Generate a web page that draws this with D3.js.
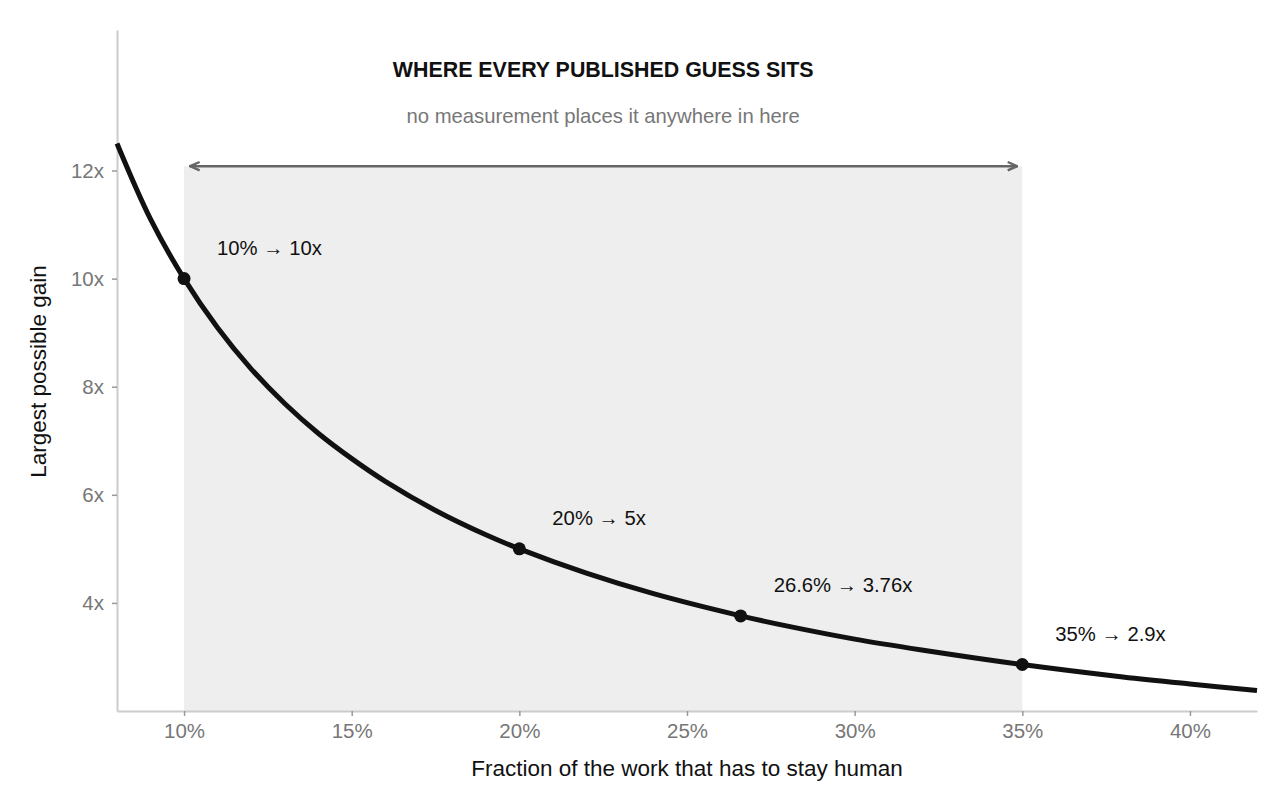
<!DOCTYPE html>
<html>
<head>
<meta charset="utf-8">
<script src="https://cdn.jsdelivr.net/npm/d3@7.9.0/dist/d3.min.js"></script>
<style>
  html, body { margin: 0; padding: 0; background: #fff; }
  svg { display: block; font-family: "Liberation Sans", Arial, sans-serif; }
  .axis .domain { stroke: #cccccc; stroke-width: 2; }
  .axis .tick line { stroke: #999999; stroke-width: 1.5; }
  .axis .tick text { fill: #777777; font-size: 20.5px; }
</style>
</head>
<body>
<svg id="chart" width="1288" height="812"></svg>
<script>
// values
const curveShare = [8, 9, 10, 11, 12, 13, 14, 15, 16, 17.5, 19, 20, 22, 24, 26.6, 28, 30, 32, 35, 38, 40, 42];
const curveGain = [12.5, 11.1, 10, 9.09, 8.33, 7.69, 7.14, 6.67, 6.25, 5.71, 5.26, 5, 4.55, 4.17, 3.76, 3.57, 3.33, 3.13, 2.86, 2.63, 2.5, 2.38];

const markShare = [10, 20, 26.6, 35];
const markGain = [10, 5, 3.76, 2.86];
const markLabels = ['10% \u2192 10x', '20% \u2192 5x', '26.6% \u2192 3.76x', '35% \u2192 2.9x'];

const bandShare = [10, 35];
const bandTopGain = 12.08;

const xTicks = [10, 15, 20, 25, 30, 35, 40];
const yTicks = [4, 6, 8, 10, 12];

const title = 'WHERE EVERY PUBLISHED GUESS SITS';
const subtitle = 'no measurement places it anywhere in here';
const xTitle = 'Fraction of the work that has to stay human';
const yTitle = 'Largest possible gain';

const margin = { top: 30, right: 31, bottom: 101, left: 117 };
const width = 1288, height = 812;

const svg = d3.select('#chart');

const x = d3.scaleLinear()
  .domain([8, 42])
  .range([margin.left, width - margin.right]);

const y = d3.scaleLinear()
  .domain([2, 14.6])
  .range([height - margin.bottom, margin.top]);

// shaded band
svg.append('rect')
  .attr('x', x(bandShare[0]))
  .attr('y', y(bandTopGain))
  .attr('width', x(bandShare[1]) - x(bandShare[0]))
  .attr('height', y(2) - y(bandTopGain))
  .attr('fill', '#eeeeee');

// axes
svg.append('g')
  .attr('class', 'axis')
  .attr('transform', `translate(0, ${y(2)})`)
  .call(d3.axisBottom(x)
    .tickValues(xTicks)
    .tickSize(5)
    .tickSizeOuter(0)
    .tickPadding(6)
    .tickFormat((d) => d + '%'));

svg.append('g')
  .attr('class', 'axis')
  .attr('transform', `translate(${x(8)}, 0)`)
  .call(d3.axisLeft(y)
    .tickValues(yTicks)
    .tickSize(5)
    .tickSizeOuter(0)
    .tickPadding(8)
    .tickFormat((d) => d + 'x'));

svg.selectAll('.axis .tick text').attr('dy', null).attr('dominant-baseline', null);
svg.selectAll('.axis').filter((d, i) => i === 0).selectAll('.tick text').attr('y', 27);
svg.selectAll('.axis').filter((d, i) => i === 1).selectAll('.tick text').attr('dy', '0.34em');

// arrow across the band
const defs = svg.append('defs');
['start', 'end'].forEach((k) => {
  defs.append('marker')
    .attr('id', 'arrow-' + k)
    .attr('viewBox', '0 0 10 10')
    .attr('refX', k === 'end' ? 9 : 1)
    .attr('refY', 5)
    .attr('markerWidth', 12)
    .attr('markerHeight', 12)
    .attr('markerUnits', 'userSpaceOnUse')
    .attr('orient', 'auto')
    .append('path')
    .attr('d', k === 'end' ? 'M1,1.5 L9,5 L1,8.5' : 'M9,1.5 L1,5 L9,8.5')
    .attr('fill', 'none')
    .attr('stroke', '#666666')
    .attr('stroke-width', 2);
});

svg.append('line')
  .attr('x1', x(bandShare[0]) + 6)
  .attr('x2', x(bandShare[1]) - 5)
  .attr('y1', y(bandTopGain))
  .attr('y2', y(bandTopGain))
  .attr('stroke', '#666666')
  .attr('stroke-width', 2.5)
  .attr('marker-start', 'url(#arrow-start)')
  .attr('marker-end', 'url(#arrow-end)');

const bandMid = (x(bandShare[0]) + x(bandShare[1])) / 2;

svg.append('text')
  .attr('x', bandMid)
  .attr('y', 77)
  .attr('text-anchor', 'middle')
  .attr('font-size', 21.4)
  .attr('font-weight', 'bold')
  .attr('fill', '#111111')
  .text(title);

svg.append('text')
  .attr('x', bandMid)
  .attr('y', 123)
  .attr('text-anchor', 'middle')
  .attr('font-size', 20.3)
  .attr('fill', '#777777')
  .text(subtitle);

// curve
const curve = curveShare.map((s, i) => [s, curveGain[i]]);

svg.append('path')
  .datum(curve)
  .attr('fill', 'none')
  .attr('stroke', '#111111')
  .attr('stroke-width', 5)
  .attr('d', d3.line()
    .x((d) => x(d[0]))
    .y((d) => y(d[1]))
    .curve(d3.curveCatmullRom));

// marked points
const marks = markShare.map((s, i) => ({ s, g: markGain[i], label: markLabels[i] }));

svg.append('g')
  .selectAll('circle')
  .data(marks)
  .join('circle')
  .attr('cx', (d) => x(d.s))
  .attr('cy', (d) => y(d.g))
  .attr('r', 6.5)
  .attr('fill', '#111111');

svg.append('g')
  .selectAll('text')
  .data(marks)
  .join('text')
  .attr('x', (d) => x(d.s) + 33)
  .attr('y', (d) => y(d.g) - 24)
  .attr('font-size', 20.3)
  .attr('fill', '#111111')
  .text((d) => d.label);

// axis titles
svg.append('text')
  .attr('x', (x(8) + x(42)) / 2)
  .attr('y', 776)
  .attr('text-anchor', 'middle')
  .attr('font-size', 22.5)
  .attr('fill', '#111111')
  .text(xTitle);

svg.append('text')
  .attr('transform', `translate(46, ${(y(2) + y(14.6)) / 2 + 1}) rotate(-90)`)
  .attr('text-anchor', 'middle')
  .attr('font-size', 22.5)
  .attr('fill', '#111111')
  .text(yTitle);
</script>
</body>
</html>
